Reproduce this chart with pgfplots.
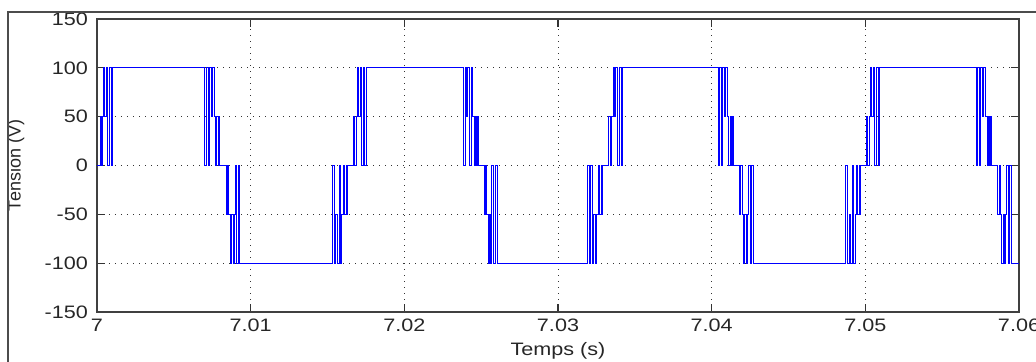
\documentclass[border=0pt]{standalone}
\usepackage{pgfplots}
\pgfplotsset{compat=1.18}
\usepackage{fontspec}
\setmainfont{Liberation Sans}[FakeStretch=1.2]
\newfontfamily\plainfont{Liberation Sans}
\begin{document}
\begin{tikzpicture}
\useasboundingbox (-48.5pt,-25pt) rectangle (469.5pt,156pt);
\begin{axis}[
 scale only axis, width=461pt, height=146.5pt,
 xmin=7, xmax=7.06, ymin=-150, ymax=150,
 xtick={7,7.01,7.02,7.03,7.04,7.05,7.06},
 xticklabels={7,7.01,7.02,7.03,7.04,7.05,7.06},
 ytick={-150,-100,-50,0,50,100,150},
 yticklabels={-150,-100,-50,0,50,100,150},
 scaled x ticks=false,
 tick align=inside, tick pos=both,
 major tick length=4pt,
 tick style={black!80, line width=0.6pt},
 axis line style={black!75, line width=0.7pt},
 grid=major,
 major grid style={black!80, line width=0.5pt, dash pattern=on 0.5pt off 2.5pt},
 tick label style={font=\fontsize{9}{10}\selectfont, text=black!85},
 yticklabel style={xshift=-1pt},
 xlabel={Temps (s)}, ylabel={Tension (V)},
 xlabel style={at={(axis description cs:0.5,-0.133)}, anchor=center, font=\fontsize{9}{10}\selectfont, text=black!85},
 ylabel style={at={(axis description cs:-0.088,0.5)}, anchor=center, font=\plainfont\fontsize{9}{10}\selectfont, text=black!85},
]
\addplot[const plot, blue, line width=0.5pt] coordinates {
(7.00000,0)
(7.00020,50)(7.00027,0)(7.00036,50)(7.00045,100)(7.00052,50)(7.00062,100)(7.00070,0)(7.00082,100)(7.00094,0)(7.00103,100)
(7.00702,0)(7.00712,100)(7.00723,0)(7.00732,100)(7.00742,50)(7.00752,100)(7.00762,50)(7.00772,0)(7.00780,50)(7.00790,0)(7.00796,50)(7.00800,0)
(7.00840,-50)(7.00850,0)(7.00858,-50)(7.00868,-100)(7.00876,-50)(7.00886,-100)(7.00894,-50)(7.00900,0)(7.00910,-100)(7.00920,0)(7.00930,-100)
(7.01534,0)(7.01546,-100)(7.01555,-50)(7.01564,-100)(7.01576,0)(7.01584,-100)(7.01594,-50)(7.01604,0)(7.01612,-50)(7.01621,0)(7.01626,-50)(7.01631,0)
(7.01670,50)(7.01677,0)(7.01686,50)(7.01695,100)(7.01702,50)(7.01712,100)(7.01720,0)(7.01732,100)(7.01744,0)(7.01753,100)
(7.02384,0)(7.02396,100)(7.02405,50)(7.02414,100)(7.02426,0)(7.02434,100)(7.02444,50)(7.02454,0)(7.02462,50)(7.02471,0)(7.02476,50)(7.02481,0)
(7.02520,-50)(7.02527,0)(7.02536,-50)(7.02545,-100)(7.02552,-50)(7.02562,-100)(7.02570,0)(7.02582,-100)(7.02594,0)(7.02603,-100)
(7.03192,0)(7.03202,-100)(7.03213,0)(7.03222,-100)(7.03232,-50)(7.03242,-100)(7.03252,-50)(7.03262,0)(7.03270,-50)(7.03280,0)(7.03286,-50)(7.03290,0)
(7.03330,50)(7.03340,0)(7.03348,50)(7.03358,100)(7.03366,50)(7.03376,100)(7.03384,50)(7.03390,0)(7.03400,100)(7.03410,0)(7.03420,100)
(7.04042,0)(7.04052,100)(7.04063,0)(7.04072,100)(7.04082,50)(7.04092,100)(7.04102,50)(7.04112,0)(7.04120,50)(7.04130,0)(7.04136,50)(7.04140,0)
(7.04180,-50)(7.04190,0)(7.04198,-50)(7.04208,-100)(7.04216,-50)(7.04226,-100)(7.04234,-50)(7.04240,0)(7.04250,-100)(7.04260,0)(7.04270,-100)
(7.04874,0)(7.04886,-100)(7.04895,-50)(7.04904,-100)(7.04916,0)(7.04924,-100)(7.04934,-50)(7.04944,0)(7.04952,-50)(7.04961,0)(7.04966,-50)(7.04971,0)
(7.05010,50)(7.05017,0)(7.05026,50)(7.05035,100)(7.05042,50)(7.05052,100)(7.05060,0)(7.05072,100)(7.05084,0)(7.05093,100)
(7.05722,0)(7.05732,100)(7.05743,0)(7.05752,100)(7.05762,50)(7.05772,100)(7.05782,50)(7.05792,0)(7.05800,50)(7.05810,0)(7.05816,50)(7.05820,0)
(7.05860,-50)(7.05870,0)(7.05878,-50)(7.05888,-100)(7.05896,-50)(7.05906,-100)(7.05914,-50)(7.05920,0)(7.05930,-100)(7.05940,0)(7.05950,-100)
(7.06000,-100)
};
\end{axis}
\draw[black!70, line width=0.8pt] (-44.5pt,-26pt) -- (-44.5pt,150pt) -- (470pt,150pt);
\end{tikzpicture}
\end{document}
